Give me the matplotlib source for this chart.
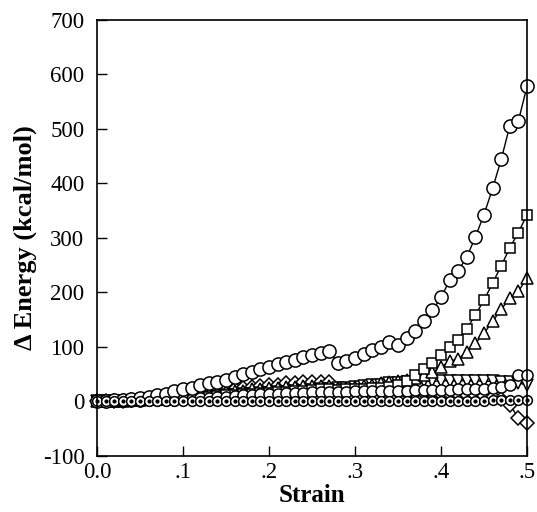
import matplotlib
matplotlib.use("Agg")
import matplotlib.pyplot as plt

# strain values (0.00 .. 0.50, step .01)
strain = [0.00, 0.01, 0.02, 0.03, 0.04, 0.05, 0.06, 0.07, 0.08, 0.09,
          0.10, 0.11, 0.12, 0.13, 0.14, 0.15, 0.16, 0.17, 0.18, 0.19,
          0.20, 0.21, 0.22, 0.23, 0.24, 0.25, 0.26, 0.27, 0.28, 0.29,
          0.30, 0.31, 0.32, 0.33, 0.34, 0.35, 0.36, 0.37, 0.38, 0.39,
          0.40, 0.41, 0.42, 0.43, 0.44, 0.45, 0.46, 0.47, 0.48, 0.49,
          0.50]

# delta energy (kcal/mol)
e_circle = [0, 1, 2, 3, 4, 6, 8, 11, 14, 19,
            22, 25, 30, 33, 36, 39, 45, 50, 54, 59,
            64, 68, 73, 77, 82, 86, 89, 92, 70, 74,
            80, 87, 94, 100, 110, 104, 117, 130, 147, 167,
            191, 222, 240, 265, 302, 343, 391, 444, 506, 515,
            578]
e_square = [0, 0, 0, 1, 1, 2, 2, 3, 4, 5,
            6, 7, 8, 9, 10, 11, 12, 13, 14, 15,
            16, 17, 18, 19, 20, 21, 22, 23, 21, 22,
            22, 23, 24, 25, 27, 30, 38, 48, 60, 71,
            85, 100, 113, 133, 159, 186, 217, 249, 282, 310,
            343]
e_triup = [0, 0, 1, 1, 2, 3, 4, 5, 6, 8,
           10, 11, 13, 14, 16, 17, 19, 20, 22, 23,
           24, 25, 26, 27, 28, 28, 29, 29, 24, 25,
           26, 28, 31, 34, 36, 37, 40, 44, 48, 54,
           63, 74, 78, 91, 107, 125, 147, 169, 190, 202,
           227]
e_diamond = [0, 0, 1, 1, 2, 3, 4, 5, 6, 8,
             11, 13, 15, 17, 19, 21, 23, 24, 26, 28,
             30, 31, 33, 34, 35, 36, 36, 36, 20, 19,
             19, 18, 18, 18, 17, 17, 16, 16, 15, 15,
             14, 14, 13, 12, 12, 10, 8, 4, -6, -30,
             -40]
e_tridown = [0, 0, 0, 1, 1, 2, 2, 3, 4, 5,
             6, 7, 8, 9, 10, 11, 12, 13, 14, 15,
             16, 17, 18, 19, 20, 21, 22, 23, 24, 25,
             27, 28, 30, 31, 33, 34, 35, 36, 37, 37,
             38, 38, 38, 38, 38, 37, 37, 36, 35, 34,
             30]
e_midcircle = [0, 0, 0, 1, 1, 1, 2, 2, 3, 3,
               4, 5, 6, 7, 8, 9, 10, 11, 12, 13,
               14, 14, 15, 16, 16, 17, 17, 18, 18, 18,
               19, 19, 19, 20, 20, 20, 20, 21, 21, 21,
               21, 21, 22, 22, 22, 23, 24, 26, 30, 48,
               48]
e_base = [0, 0, 0, 0, 0, 0, 0, 0, 0, 0,
          0, 0, 0, 0, 0, 1, 1, 1, 1, 1,
          1, 1, 1, 1, 1, 1, 1, 1, 1, 1,
          1, 1, 1, 1, 1, 1, 1, 1, 1, 1,
          1, 1, 1, 1, 1, 1, 2, 2, 2, 2,
          3]

x_ticks = [0.0, 0.1, 0.2, 0.3, 0.4, 0.5]
x_ticklabels = ["0.0", ".1", ".2", ".3", ".4", ".5"]
y_ticks = [-100, 0, 100, 200, 300, 400, 500, 600, 700]

plt.rcParams['font.family'] = ['Liberation Serif', 'DejaVu Serif']
plt.rcParams['axes.unicode_minus'] = False

fig = plt.figure(figsize=(5.37, 5.12), dpi=100)
ax = fig.add_axes([0.1806, 0.1094, 0.8008, 0.8516])

mk = dict(color='black', lw=1.0, mfc='white', mec='black', mew=1.1, clip_on=False)
ax.plot(strain, e_diamond, marker='D', ms=7, **mk)
ax.plot(strain, e_tridown, marker='v', ms=8.5, **mk)
ax.plot(strain, e_triup, marker='^', ms=8.5, **mk)
ax.plot(strain, e_square, marker='s', ms=7.5, **mk)
ax.plot(strain, e_midcircle, marker='o', ms=8, **mk)
ax.plot(strain, e_circle, marker='o', ms=9.5, **mk)
ax.plot(strain, e_base, marker='o', ms=7, **mk)
ax.plot(strain, e_base, ls='none', marker='o', ms=2, color='black', clip_on=False)

ax.set_xlim(0, 0.5)
ax.set_ylim(-100, 700)
ax.set_xticks(x_ticks)
ax.set_xticklabels(x_ticklabels)
ax.set_yticks(y_ticks)
ax.tick_params(direction='in', length=7, width=1, labelsize=16.5, pad=9)
ax.tick_params(axis='x', pad=4)
for s in ax.spines.values():
    s.set_linewidth(1.2)

ax.set_xlabel("Strain", fontsize=18, fontweight='bold', labelpad=1)
ax.set_ylabel("\u0394 Energy (kcal/mol)", fontsize=19, fontweight='bold', labelpad=4)

fig.savefig("out.png", dpi=100)
